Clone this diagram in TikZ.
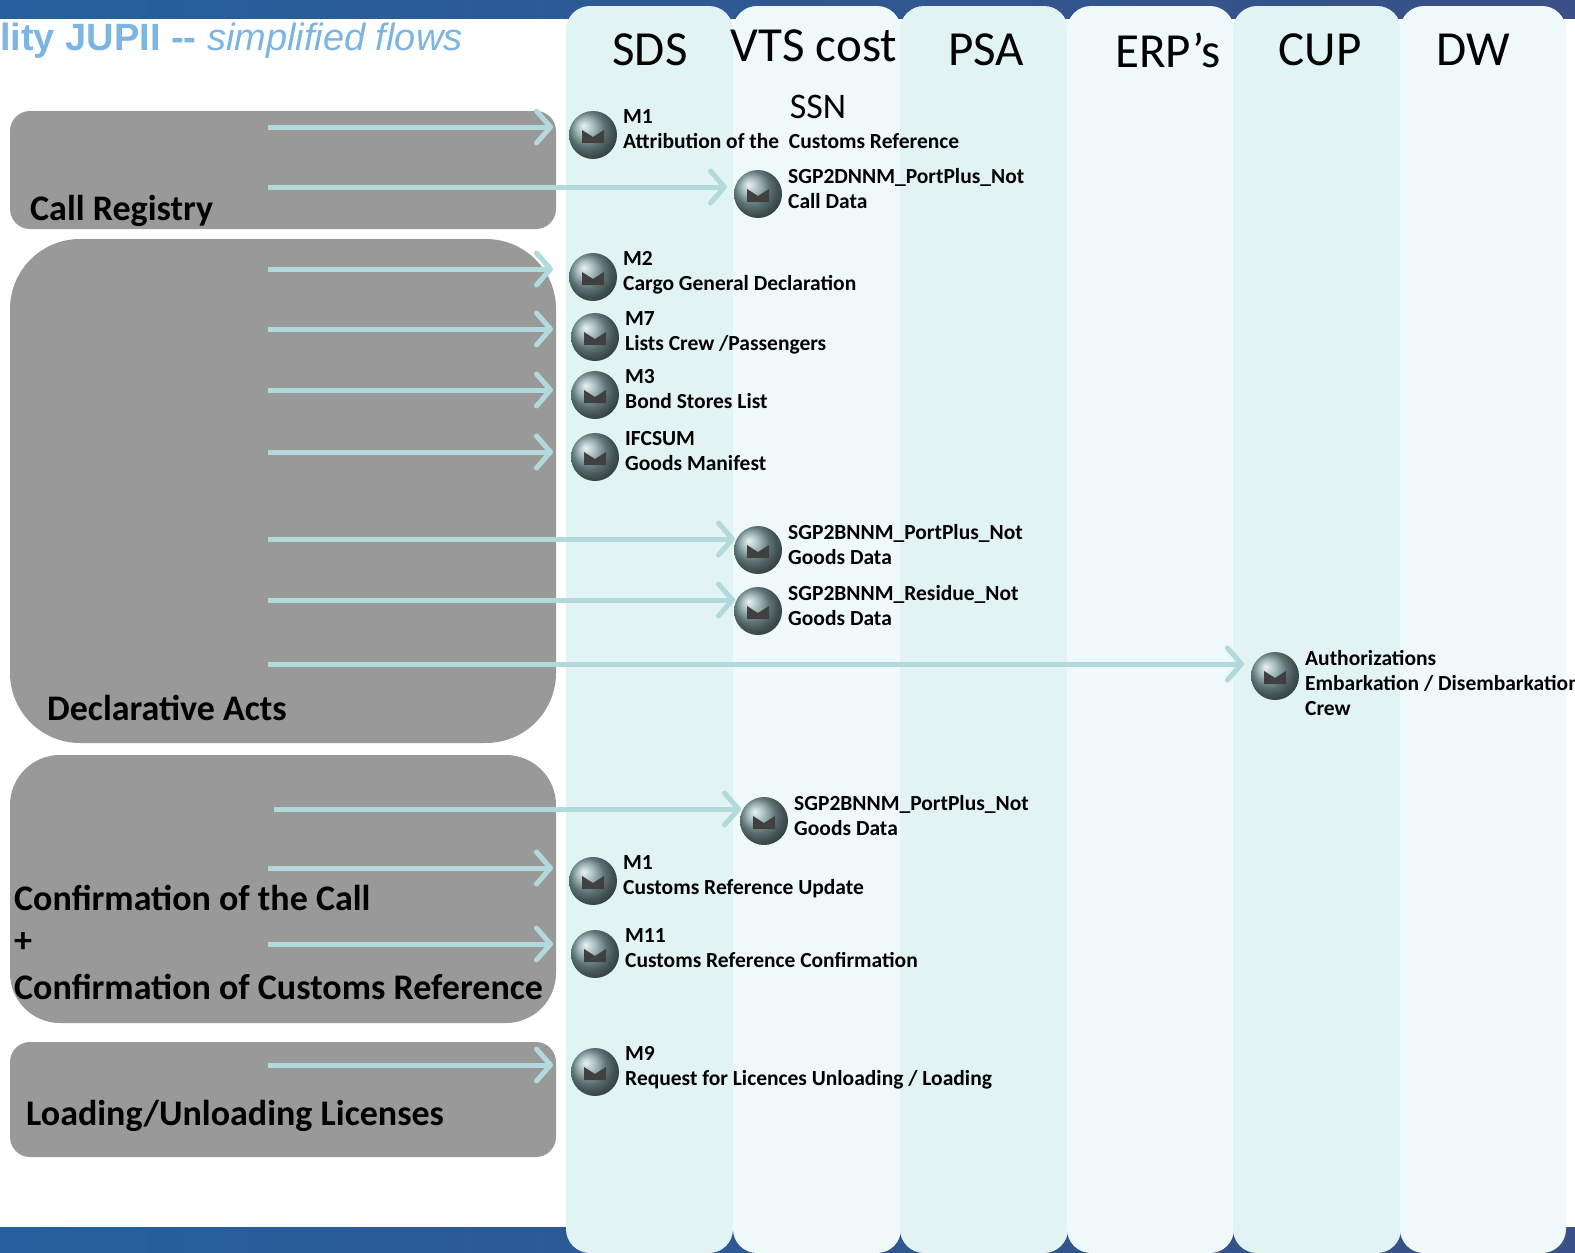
\documentclass[tikz,border=0pt]{standalone}
\usepackage{fontspec}
\setmainfont{Carlito}
\newfontfamily\titlefont{Liberation Sans}
\usetikzlibrary{arrows.meta}
\definecolor{lanedark}{HTML}{E2F3F3}
\definecolor{lanelight}{HTML}{F0F9F9}
\definecolor{flowcol}{HTML}{B2DADD}
\definecolor{boxgray}{HTML}{999999}
\definecolor{barleft}{HTML}{24609F}
\definecolor{barright}{HTML}{3A5086}
\definecolor{titleblue}{HTML}{7DB5E2}
\tikzset{
  lane/.style={rounded corners=24pt},
  phase/.style={fill=boxgray},
  phasetext/.style={font=\fontsize{36}{43}\selectfont\bfseries,anchor=west,align=left,inner sep=0pt},
  lanetitle/.style={font=\fontsize{49}{58}\selectfont,inner sep=0pt},
  flow/.style={draw=flowcol,line width=5pt,-{Straight Barb[length=14pt,width=32pt,round]}},
  msgicon/.style={circle,minimum size=48pt,inner sep=0pt,shade,ball color=flowcol!75!black},
  msgtext/.style={font=\fontsize{21.5}{25}\selectfont\bfseries,align=left,anchor=north west,inner sep=0pt}
}
\begin{document}
\begin{tikzpicture}[x=1pt,y=-1pt]
\useasboundingbox (0,0) rectangle (1575,1253);
\shade[left color=barleft,right color=barright] (0,0) rectangle (1575,18);
\shade[left color=barleft,right color=barright] (0,1227) rectangle (1575,1253);
\node[font=\titlefont\fontsize{38}{44}\selectfont,text=titleblue,anchor=west,inner sep=0pt] (title) at (0,41) {\textbf{lity JUPII --} \textit{simplified flows}};
% lanes
\foreach\x/\w/\c[count=\i] in {566/167/lanedark,733/168/lanelight,900/168/lanedark,1067/167/lanelight,1233/168/lanedark,1400/166/lanelight}{
  \fill[lane,\c] (\x,6) rectangle ++(\w,1247);
}
\foreach\x/\y/\t[count=\i] in {650/50/SDS,814/46/VTS cost,986/50/PSA,1168/50/ERP’s,1320/50/CUP,1473/50/DW,818/107/SSN}{
  \node[lanetitle,font=\fontsize{\ifnum\i=7 36\else 49\fi}{58}\selectfont] (head\i) at (\x,\y) {\t};
}
% phases
\fill[phase,rounded corners=20pt] (10,111) rectangle (556,229);
\fill[phase,rounded corners=70pt] (10,239) rectangle (556,743);
\fill[phase,rounded corners=50pt] (10,755) rectangle (556,1023);
\fill[phase,rounded corners=20pt] (10,1042) rectangle (556,1157);
\node[phasetext] (callreg) at (30,211) {Call Registry};
\node[phasetext] (declacts) at (47,708) {Declarative Acts};
\node[phasetext] (confcall) at (14,898) {Confirmation of the Call};
\node[phasetext] (plus) at (14,943) {+};
\node[phasetext] (confref) at (14,987) {Confirmation of Customs Reference};
\node[phasetext] (loadlic) at (26,1116) {Loading/Unloading Licenses};
% messages: name/x/y/arrow y/arrow start/arrow tip/text
\foreach\nm/\x/\y/\ay/\sx/\tx/\t in {
  ma/593/135/127/268/553/{M1\\Attribution of the\ \ Customs Reference},
  mb/758/194/187/268/727/{SGP2DNNM\_PortPlus\_Not\\Call Data},
  mc/593/277/269/268/553/{M2\\Cargo General Declaration},
  md/595/337/329/268/553/{M7\\Lists Crew /Passengers},
  me/595/395/390/268/553/{M3\\Bond Stores List},
  mf/595/457/452/268/553/{IFCSUM\\Goods Manifest},
  mg/758/550/539/268/735/{SGP2BNNM\_PortPlus\_Not\\Goods Data},
  mh/758/611/600/268/735/{SGP2BNNM\_Residue\_Not\\Goods Data},
  mi/1275/676/664/268/1244/{Authorizations\\Embarkation / Disembarkation\\Crew},
  mj/764/821/809/274/741/{SGP2BNNM\_PortPlus\_Not\\Goods Data},
  mk/593/881/868/268/553/{M1\\Customs Reference Update},
  ml/595/954/944/268/553/{M11\\Customs Reference Confirmation},
  mm/595/1072/1065/268/553/{M9\\Request for Licences Unloading / Loading}}{
  \node[msgicon] (\nm) at (\x,\y) {};
  \fill[black!75] ([shift={(-11,-5)}]\nm.center) -- ++(11,7) -- ++(11,-7) -- ++(0,13) -- ++(-22,0) -- cycle;
  \node[msgtext] (\nm txt) at ([shift={(30,-26)}]\nm.center) {\t};
  \coordinate (\nm from) at (\sx,\ay);
  \coordinate (\nm to) at (\tx,\ay);
  \draw[flow] (\nm from) -- (\nm to);
}
\end{tikzpicture}
\end{document}
